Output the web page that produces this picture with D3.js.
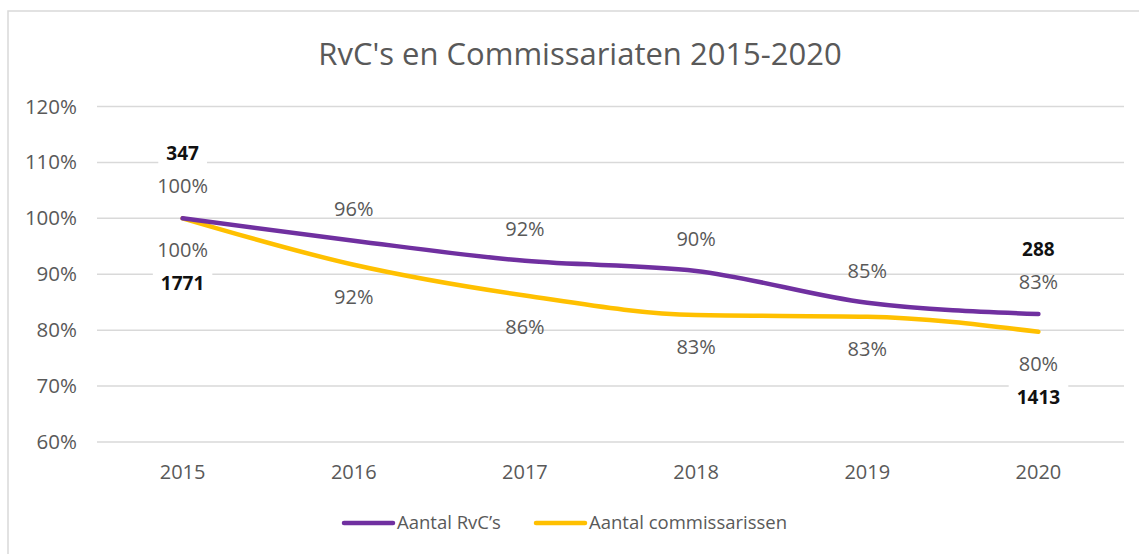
<!DOCTYPE html>
<html>
<head>
<meta charset="utf-8">
<script src="https://cdn.jsdelivr.net/npm/d3@7"></script>
<style>
  body { margin: 0; background: #fff; }
  svg { display: block; font-family: "Open Sans", Lato, sans-serif; }
</style>
</head>
<body>
<script>
var years = ['2015', '2016', '2017', '2018', '2019', '2020'];
var rvcValues = [100, 96.0, 92.4, 90.6, 84.9, 82.9];
var commValues = [100, 91.7, 86.2, 82.7, 82.4, 79.7];
var rvcLabels = ['100%', '96%', '92%', '90%', '85%', '83%'];
var commLabels = ['100%', '92%', '86%', '83%', '83%', '80%'];
var yTicks = [60, 70, 80, 90, 100, 110, 120];
// absolute counts shown at the first and last year
var rvcCounts = { '2015': '347', '2020': '288' };
var commCounts = { '2015': '1771', '2020': '1413' };

var W = 1139, H = 554;
var PURPLE = '#7030A0', ORANGE = '#FFC000', GREY = '#595959';

var svg = d3.select('body').append('svg')
    .attr('width', W)
    .attr('height', H);

// chart border (left and top visible)
svg.append('rect')
    .attr('x', 8).attr('y', 11)
    .attr('width', W + 20).attr('height', H + 20)
    .attr('fill', '#fff')
    .attr('stroke', '#d9d9d9')
    .attr('stroke-width', 1.5);

svg.append('text')
    .attr('x', 580).attr('y', 65)
    .attr('text-anchor', 'middle')
    .attr('fill', GREY)
    .style('font-size', '31px')
    .text("RvC's en Commissariaten 2015-2020");

var x = d3.scaleBand().domain(years).range([97, 1124]);
var y = d3.scaleLinear().domain([60, 120]).range([442, 106.5]);
function cx(d) { return x(d) + x.bandwidth() / 2; }

// gridlines
svg.append('g').selectAll('line')
    .data(yTicks)
    .enter().append('line')
    .attr('x1', 97).attr('x2', 1124)
    .attr('y1', function (d) { return y(d); })
    .attr('y2', function (d) { return y(d); })
    .attr('stroke', '#d9d9d9')
    .attr('stroke-width', 1.5);

// y axis labels
svg.append('g').selectAll('text')
    .data(yTicks)
    .enter().append('text')
    .attr('x', 77)
    .attr('y', function (d) { return y(d) + 7; })
    .attr('text-anchor', 'end')
    .attr('fill', GREY)
    .style('font-size', '20.5px')
    .text(function (d) { return d + '%'; });

// x axis labels
svg.append('g').selectAll('text')
    .data(years)
    .enter().append('text')
    .attr('x', function (d) { return cx(d); })
    .attr('y', 479)
    .attr('text-anchor', 'middle')
    .attr('fill', GREY)
    .style('font-size', '20px')
    .text(function (d) { return d; });

var line = d3.line()
    .x(function (d) { return cx(d.year); })
    .y(function (d) { return y(d.v); })
    .curve(d3.curveMonotoneX);

var series = [
    { name: 'Aantal RvC\u2019s', color: PURPLE, values: rvcValues, labels: rvcLabels, counts: rvcCounts, dir: -1 },
    { name: 'Aantal commissarissen', color: ORANGE, values: commValues, labels: commLabels, counts: commCounts, dir: 1 }
];

// draw orange first so purple sits on top where they meet
series.slice().reverse().forEach(function (s) {
    var pts = years.map(function (yr, i) { return { year: yr, v: s.values[i] }; });
    svg.append('path')
        .datum(pts)
        .attr('d', line)
        .attr('fill', 'none')
        .attr('stroke', s.color)
        .attr('stroke-width', 4.5)
        .attr('stroke-linecap', 'round')
        .attr('stroke-linejoin', 'round');
});

series.forEach(function (s) {
    var g = svg.append('g');
    years.forEach(function (yr, i) {
        var px = cx(yr), py = y(s.values[i]);
        var ty = py + s.dir * 32 + 7;
        g.append('text')
            .attr('x', px).attr('y', ty)
            .attr('text-anchor', 'middle')
            .attr('fill', GREY)
            .style('font-size', '20px')
            .text(s.labels[i]);
        if (s.counts[yr]) {
            var cy = ty + s.dir * 33;
            var t = g.append('text')
                .attr('x', px).attr('y', cy)
                .attr('text-anchor', 'middle')
                .attr('fill', '#111')
                .style('font-size', '19px')
                .style('font-weight', 'bold')
                .text(s.counts[yr]);
            var bb = t.node().getBBox();
            g.insert('rect', function () { return t.node(); })
                .attr('x', bb.x - 8).attr('y', bb.y)
                .attr('width', bb.width + 16).attr('height', bb.height)
                .attr('fill', '#fff');
        }
    });
});

// legend
var legend = svg.append('g');
var lx = [344, 536];
series.forEach(function (s, i) {
    legend.append('line')
        .attr('x1', lx[i]).attr('x2', lx[i] + 49)
        .attr('y1', 523).attr('y2', 523)
        .attr('stroke', s.color)
        .attr('stroke-width', 4.5)
        .attr('stroke-linecap', 'round');
    legend.append('text')
        .attr('x', lx[i] + 53).attr('y', 529)
        .attr('fill', GREY)
        .style('font-size', '18.5px')
        .text(s.name);
});
</script>
</body>
</html>
